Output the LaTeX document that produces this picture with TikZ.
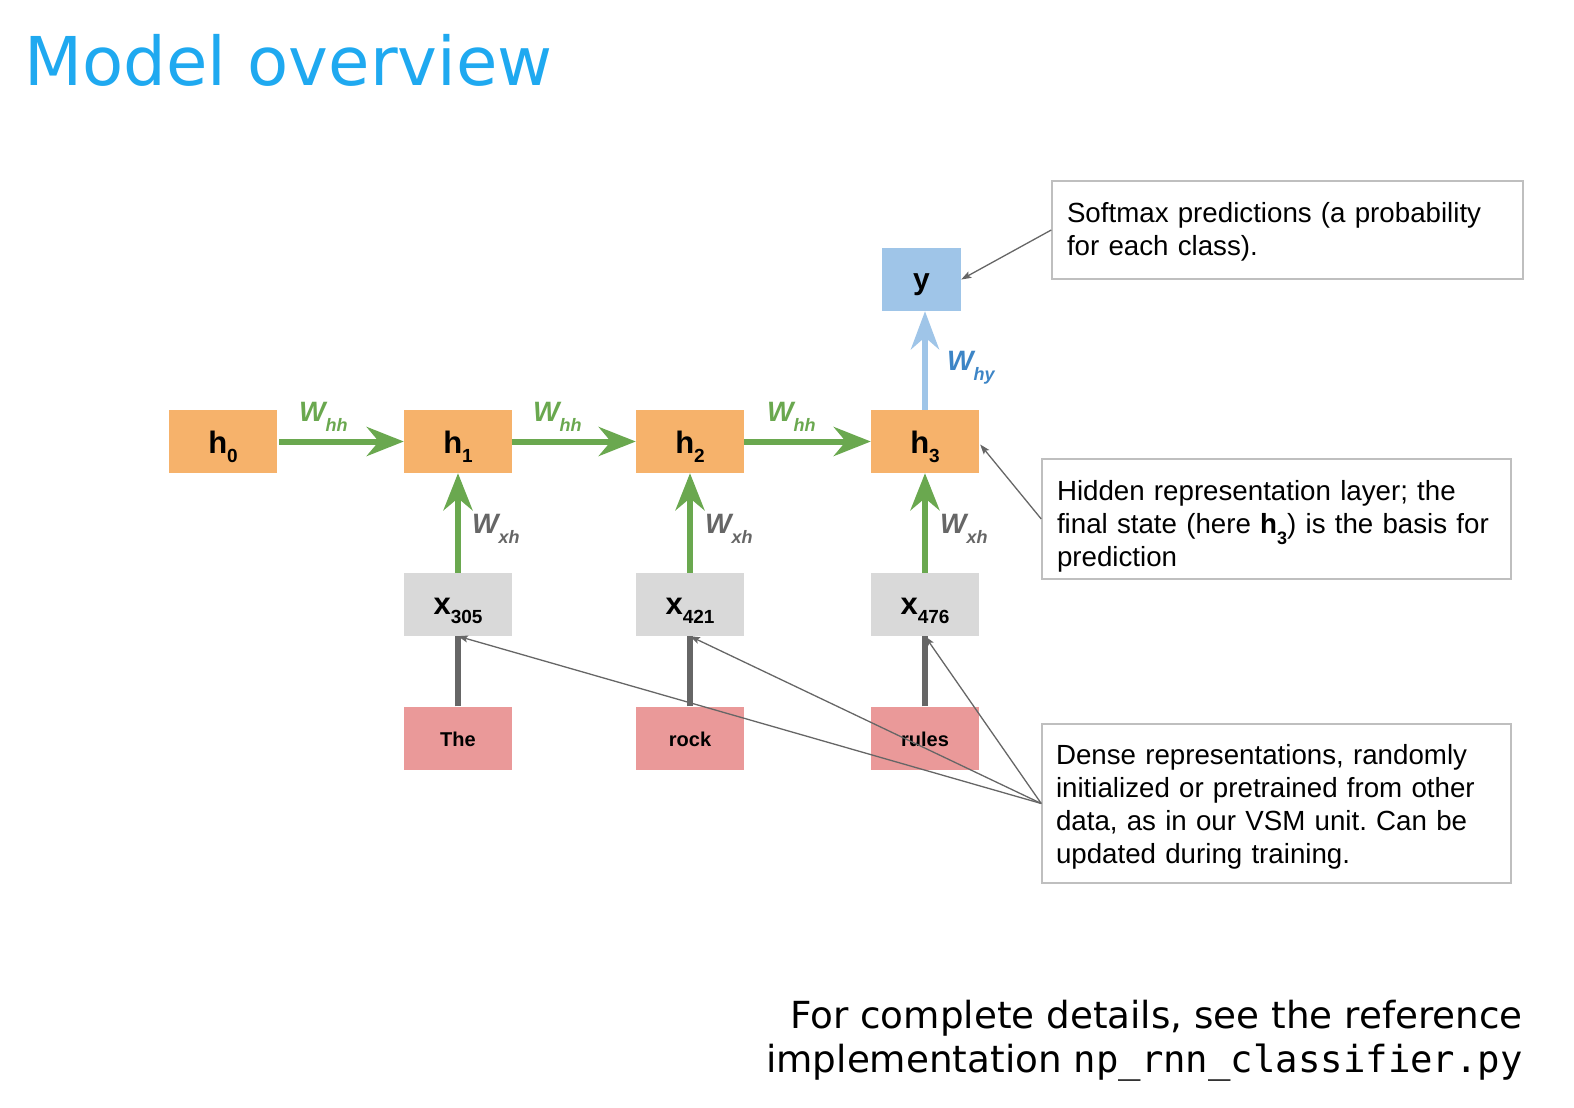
\documentclass[tikz,border=0pt]{standalone}
\usepackage{fontspec}
\setmainfont{Liberation Sans}
\newfontfamily\titlefont{DejaVu Sans}
\newfontfamily\codefont{DejaVu Sans Mono}
\usetikzlibrary{arrows.meta,calc}
\frenchspacing

\definecolor{hidorange}{HTML}{F6B26B}
\definecolor{inpgray}{HTML}{D9D9D9}
\definecolor{wordpink}{HTML}{EA9999}
\definecolor{outblue}{HTML}{9FC5E8}
\definecolor{arrgreen}{HTML}{6AA84F}
\definecolor{darkgray}{HTML}{666666}
\definecolor{labblue}{HTML}{3D85C6}
\definecolor{boxline}{HTML}{BFBFBF}
\definecolor{titleblue}{HTML}{1FA9F0}

% weight label: bold italic W with a lowered subscript
\newcommand{\wlabel}[1]{\fontsize{28}{28}\selectfont\bfseries\itshape W\raisebox{-10pt}{\fontsize{18}{18}\selectfont #1}}
% cell label with a lowered subscript
\newcommand{\sublab}[2]{#1\raisebox{-9pt}{\fontsize{19}{19}\selectfont #2}}

\begin{document}
\begin{tikzpicture}[x=1pt,y=-1pt,
  cell/.style={minimum width=108pt,minimum height=63pt,inner sep=0pt},
  hid/.style={cell,fill=hidorange,text height=23pt,text depth=0pt,
    font=\fontsize{31}{31}\selectfont\bfseries},
  inp/.style={cell,fill=inpgray,text height=20pt,text depth=0pt,
    font=\fontsize{31}{31}\selectfont\bfseries},
  word/.style={cell,fill=wordpink,text height=16pt,text depth=0pt,
    font=\fontsize{20}{20}\selectfont\bfseries},
  outp/.style={cell,minimum width=79pt,fill=outblue,text height=19pt,text depth=0pt,
    font=\fontsize{30}{30}\selectfont\bfseries},
  garrow/.style={draw=arrgreen,line width=6pt,
    -{Stealth[length=37pt,width=29pt,inset=12pt]}},
  barrow/.style={draw=outblue,line width=6pt,
    -{Stealth[length=38pt,width=28pt,inset=12pt]}},
  embline/.style={draw=darkgray,line width=5.5pt},
  notebox/.style={draw=boxline,line width=1.5pt,inner sep=0pt},
  notetext/.style={inner sep=0pt,align=left,font=\fontsize{27.7}{33}\selectfont},
  noteline/.style={draw=darkgray,line width=1.3pt,
    -{Stealth[length=10pt,width=7pt,inset=2pt]}},
  wlab/.style={anchor=base west,inner sep=0pt}
]
\useasboundingbox (0,0) rectangle (1574,1108);

% title
\node[anchor=base west,inner sep=0pt,text=titleblue,
  font=\titlefont\fontsize{67.3}{67.3}\selectfont] (title) at (24,85) {Model overview};

% hidden states
\node[hid] (h0) at (223,441.5) {\sublab{h}{0}};
\node[hid] (h1) at (458,441.5) {\sublab{h}{1}};
\node[hid] (h2) at (690,441.5) {\sublab{h}{2}};
\node[hid] (h3) at (925,441.5) {\sublab{h}{3}};

% input vectors
\node[inp] (x305) at (458,604.5) {\sublab{x}{305}};
\node[inp] (x421) at (690,604.5) {\sublab{x}{421}};
\node[inp] (x476) at (925,604.5) {\sublab{x}{476}};

% words
\node[word] (w1) at (458,738) {The};
\node[word] (w2) at (690,738) {rock};
\node[word] (w3) at (925,738) {rules};

% output
\node[outp] (y) at (921.5,279.5) {y};

% recurrent connections
\draw[garrow,shorten <=2pt] (h0) -- (h1);
\draw[garrow] (h1) -- (h2);
\draw[garrow] (h2) -- (h3);
\node[wlab,text=arrgreen] (whh1) at (299,421) {\wlabel{hh}};
\node[wlab,text=arrgreen] (whh2) at (533,421) {\wlabel{hh}};
\node[wlab,text=arrgreen] (whh3) at (767,421) {\wlabel{hh}};

% input connections
\draw[garrow] (x305) -- (h1);
\draw[garrow] (x421) -- (h2);
\draw[garrow] (x476) -- (h3);
\node[wlab,text=darkgray] (wxh1) at (472,533) {\wlabel{xh}};
\node[wlab,text=darkgray] (wxh2) at (705,533) {\wlabel{xh}};
\node[wlab,text=darkgray] (wxh3) at (940,533) {\wlabel{xh}};

% embedding lookups
\draw[embline] (w1) -- (x305);
\draw[embline] (w2) -- (x421);
\draw[embline] (w3) -- (x476);

% output connection
\draw[barrow] (h3.north) -- (h3.north |- y.south);
\node[wlab,text=labblue] (why) at (947,370) {\wlabel{hy}};

% notes: frames and their text
\node[notebox,minimum width=471pt,minimum height=98pt] (soft) at (1287.5,230) {};
\node[notetext,text width=441pt] (softtext) at (1287.5,231.5)
  {Softmax predictions (a probability\\for each class).};
\node[notebox,minimum width=469pt,minimum height=120pt] (hidnote) at (1276.5,519) {};
\node[notetext,text width=439pt] (hidtext) at (1276.5,526)
  {Hidden representation layer; the\\final state (here \textbf{h}\raisebox{-11pt}{\fontsize{18}{18}\selectfont\bfseries 3}) is the basis for\\prediction};
\node[notebox,minimum width=469pt,minimum height=159pt] (dense) at (1276.5,803.5) {};
\node[notetext,text width=441pt] (densetext) at (1276.5,807)
  {Dense representations, randomly\\initialized or pretrained from other\\data, as in our VSM unit. Can be\\updated during training.};

\draw[noteline] (soft.west) -- (y.east);
\draw[noteline] (hidnote.west) -- ($(h3.east)+(1,3)$);
\draw[noteline] (dense.west) -- (x305.south);
\draw[noteline] (dense.west) -- (x421.south);
\draw[noteline] (dense.west) -- (x476.south);

% footer
\node[anchor=base east,inner sep=0pt,font=\titlefont\fontsize{37.3}{37.3}\selectfont]
  (foot1) at (1523,1028) {For complete details, see the reference};
\node[anchor=base east,inner sep=0pt,font=\titlefont\fontsize{37.3}{37.3}\selectfont]
  (foot2) at (1523,1072) {implementation {\codefont np\_rnn\_classifier.py}};
\end{tikzpicture}
\end{document}
